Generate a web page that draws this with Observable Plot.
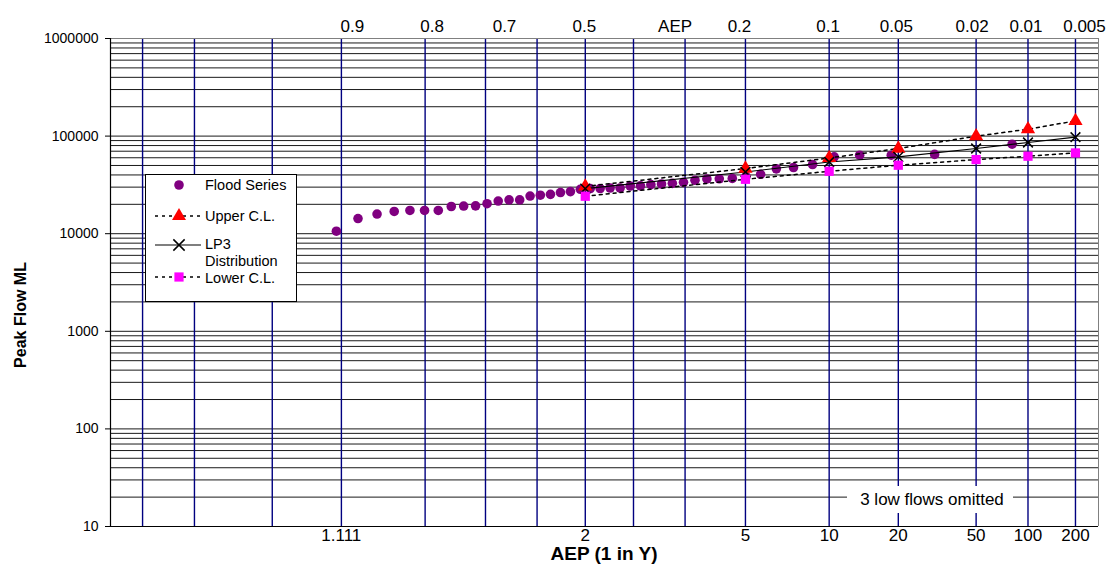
<!DOCTYPE html>
<html><head><meta charset="utf-8">
<script src="https://cdn.jsdelivr.net/npm/d3@7"></script>
<script src="https://cdn.jsdelivr.net/npm/@observablehq/plot@0.6"></script>
<style>
body{margin:0;background:#fff;}
svg{font-family:"Liberation Sans",Arial,sans-serif;}
</style>
</head><body><div id="chart"></div>
<script>
// ---- data ----
const floodAEP = [0.01245,0.03320,0.05394,0.07469,0.09544,0.11618,0.13693,0.15768,0.17842,0.19917,
  0.21992,0.24066,0.26141,0.28216,0.30290,0.32365,0.34440,0.36515,0.38589,0.40664,
  0.42739,0.44813,0.46888,0.48963,0.51037,0.53112,0.55187,0.57261,0.59336,0.61411,
  0.63485,0.65560,0.67635,0.69710,0.71784,0.73859,0.75934,0.78008,0.80083,0.82158,
  0.84232,0.86307,0.88382,0.90456];
const floodFlow = [82600,64900,63700,63700,61200,51100,47600,46200,40600,38500,
  36800,36500,36400,35300,33600,32800,32300,31800,30900,30800,
  29400,29400,29000,29000,28500,27000,26400,25300,24800,24300,
  22200,22200,21600,20300,19300,19200,19000,17300,17300,17300,
  16900,15900,14300,10600];
const distAEP = [0.5,0.2,0.1,0.05,0.02,0.01,0.005];
const upperCL = [30500,46500,59700,74600,99800,117700,143200];
const lp3     = [29000,42900,54300,61200,74600,86000,97400];
const lowerCL = [24200,36100,43600,50300,57500,62200,67200];
const gridAEP = [0.99,0.98,0.95,0.9,0.8,0.7,0.6,0.5,0.4,0.3,0.2,0.1,0.05,0.02,0.01,0.005];
const topLabelAEP  = [0.9,0.8,0.7,0.5,0.3,0.2,0.1,0.05,0.02,0.01,0.005];
const topLabelText = ["0.9","0.8","0.7","0.5","AEP","0.2","0.1","0.05","0.02","0.01","0.005"];
const topLabelDx   = [11,7,19,-1,-10,-6,-1,-2,-4,-2,9];
const bottomLabelY = [1.111,2,5,10,20,50,100,200];
const yTicks = [10,100,1000,10000,100000,1000000];
const xDomainAEP = [0.9937,0.0035];

// ---- normal quantile (probability paper) ----
function probit(p){
  const a=[-3.969683028665376e+01,2.209460984245205e+02,-2.759285104469687e+02,1.383577518672690e+02,-3.066479806614716e+01,2.506628277459239e+00];
  const b=[-5.447609879822406e+01,1.615858368580409e+02,-1.556989798598866e+02,6.680131188771972e+01,-1.328068155288572e+01];
  const c=[-7.784894002430293e-03,-3.223964580411365e-01,-2.400758276161838e+00,-2.549671175907829e+00,4.374664141464968e+00,2.938163982119380e+00];
  const d=[7.784695709041462e-03,3.224671290700398e-01,2.445134137142996e+00,3.754408661907416e+00];
  const pl=0.02425, ph=1-pl; let q,r;
  if(p<pl){q=Math.sqrt(-2*Math.log(p));return (((((c[0]*q+c[1])*q+c[2])*q+c[3])*q+c[4])*q+c[5])/((((d[0]*q+d[1])*q+d[2])*q+d[3])*q+1);}
  if(p<=ph){q=p-0.5;r=q*q;return (((((a[0]*r+a[1])*r+a[2])*r+a[3])*r+a[4])*r+a[5])*q/(((((b[0]*r+b[1])*r+b[2])*r+b[3])*r+b[4])*r+1);}
  q=Math.sqrt(-2*Math.log(1-p));return -(((((c[0]*q+c[1])*q+c[2])*q+c[3])*q+c[4])*q+c[5])/((((d[0]*q+d[1])*q+d[2])*q+d[3])*q+1);
}
const Z = aep => probit(1 - aep);

const flood = floodAEP.map((a,i)=>({z:Z(a), q:floodFlow[i]}));
const dist = distAEP.map((a,i)=>({z:Z(a), up:upperCL[i], lp:lp3[i], lo:lowerCL[i]}));
const hGrid = [];
for (let e=1;e<=5;e++) for (let m=1;m<=9;m++) hGrid.push(m*Math.pow(10,e));
hGrid.push(1000000);

const FONT = '"Liberation Sans",Arial,sans-serif';
const plot = Plot.plot({
  width:1110, height:567,
  marginLeft:110, marginRight:12, marginTop:38, marginBottom:41,
  style:{fontFamily:FONT, background:"#fff", color:"#000", overflow:"visible"},
  x:{type:"linear", domain:xDomainAEP.map(Z), axis:null},
  y:{type:"log", domain:[10,1000000], axis:null},
  marks:[
    Plot.ruleY(hGrid, {stroke:"#1a1a1a", strokeWidth:1}),
    Plot.ruleX(gridAEP, {x:Z, stroke:"#000080", strokeWidth:1.4}),
    Plot.ruleY([1000000], {stroke:"#808080"}),
    Plot.ruleX([xDomainAEP[1]], {x:Z, stroke:"#808080"}),
    Plot.ruleY([10], {stroke:"#000", strokeWidth:1.2}),
    Plot.ruleX([xDomainAEP[0]], {x:Z, stroke:"#000", strokeWidth:1.2}),
    Plot.axisY(yTicks, {tickSize:5, tickPadding:7, tickFormat:d=>String(d), fontSize:14, label:null, stroke:"#000"}),
    ...topLabelAEP.map((a,i)=>Plot.text([a], {x:Z, frameAnchor:"top", dy:-19, dx:topLabelDx[i], text:()=>topLabelText[i], fontSize:17, fill:"#000"})),
    Plot.text(bottomLabelY, {x:d=>Z(1/d), frameAnchor:"bottom", dy:14, text:d=>String(d), fontSize:17, fill:"#000"}),
    // series
    Plot.dot(flood, {x:"z", y:"q", r:4.8, fill:"#800080", symbol:"circle"}),
    Plot.line(dist, {x:"z", y:"up", stroke:"#000", strokeWidth:1.5, strokeDasharray:"3,4"}),
    Plot.line(dist, {x:"z", y:"lo", stroke:"#000", strokeWidth:1.5, strokeDasharray:"3,4"}),
    Plot.line(dist, {x:"z", y:"lp", stroke:"#000", strokeWidth:1.2}),
    Plot.dot(dist, {x:"z", y:"up", symbol:"triangle", r:5.3, fill:"#ff0000"}),
    Plot.dot(dist, {x:"z", y:"lp", symbol:"times", r:4.5, stroke:"#000", strokeWidth:1.5}),
    Plot.dot(dist, {x:"z", y:"lo", symbol:"square", r:5.2, fill:"#ff00ff"})
  ]
});
document.getElementById("chart").appendChild(plot);

// ---- annotations: titles, note, legend ----
const svg = d3.select(plot);
svg.append("text").attr("transform","translate(20,315) rotate(-90)")
  .attr("text-anchor","middle").attr("dominant-baseline","central")
  .attr("font-size",16).attr("font-weight","bold").attr("font-family",FONT).text("Peak Flow ML");
svg.append("text").attr("x",604).attr("y",553)
  .attr("text-anchor","middle").attr("dominant-baseline","central")
  .attr("font-size",19).attr("font-weight","bold").attr("font-family",FONT).text("AEP (1 in Y)");

const note = svg.append("g");
note.append("rect").attr("x",847).attr("y",486).attr("width",166).attr("height",27).attr("fill","#fff");
note.append("text").attr("x",932).attr("y",499).attr("text-anchor","middle").attr("dominant-baseline","central")
  .attr("font-size",17).attr("font-family",FONT).text("3 low flows omitted");

const lg = svg.append("g").attr("font-family",FONT).attr("font-size",14.5).attr("text-anchor","start");
lg.append("rect").attr("x",145.5).attr("y",174.5).attr("width",151).attr("height",127).attr("fill","#fff").attr("stroke","#000");
const items = [
  {label:["Flood Series"], y:185, ly:[185], line:null, sym:"circle", color:"#800080"},
  {label:["Upper C.L."], y:216, ly:[216], line:"3,4", sym:"triangle", color:"#ff0000"},
  {label:["LP3","Distribution"], y:245, ly:[244,261], line:"", sym:"times", color:"#000"},
  {label:["Lower C.L."], y:277, ly:[278], line:"3,4", sym:"square", color:"#ff00ff"}
];
items.forEach(it=>{
  if(it.line!==null){
    lg.append("line").attr("x1",155).attr("x2",201).attr("y1",it.y).attr("y2",it.y)
      .attr("stroke","#000").attr("stroke-width",it.line?1.5:1.2).attr("stroke-dasharray",it.line||null);
  }
  const sym = {circle:d3.symbolCircle, triangle:d3.symbolTriangle, times:d3.symbolTimes, square:d3.symbolSquare}[it.sym];
  const area = it.sym==="circle"? Math.PI*4.8*4.8 : Math.PI*27;
  const p = lg.append("path").attr("transform",`translate(179,${it.y})`).attr("d", d3.symbol(sym, area)());
  if(it.sym==="times") p.attr("fill","none").attr("stroke","#000").attr("stroke-width",1.5);
  else p.attr("fill",it.color);
  it.label.forEach((t,k)=>{
    lg.append("text").attr("x",205).attr("y",it.ly[k]).attr("dominant-baseline","central").attr("text-anchor","start").text(t);
  });
});
</script>
</body></html>
